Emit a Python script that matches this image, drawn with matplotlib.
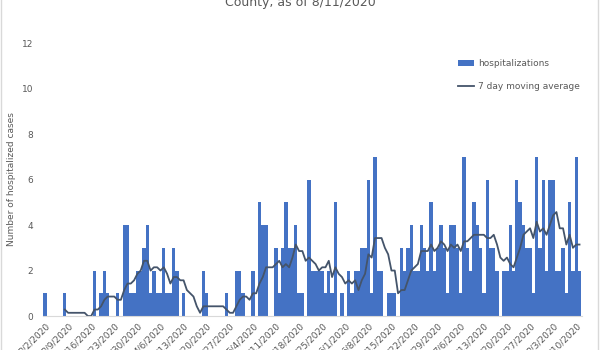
import matplotlib
matplotlib.use("Agg")
import matplotlib.pyplot as plt
import numpy as np
import pandas as pd
from matplotlib.patches import Rectangle

# Daily hospitalizations, 3/2/2020 through 8/10/2020
start_date = "2020-03-02"
hospitalizations = [
    1, 0, 0, 0, 0, 0, 1,          # 3/2
    0, 0, 0, 0, 0, 0, 0,          # 3/9
    0, 2, 0, 1, 2, 1, 0,          # 3/16
    0, 1, 0, 4, 4, 1, 1,          # 3/23
    2, 2, 3, 4, 1, 2, 1,          # 3/30
    1, 3, 1, 1, 3, 2, 0,          # 4/6
    1, 0, 0, 0, 0, 0, 2,          # 4/13
    1, 0, 0, 0, 0, 0, 1,          # 4/20
    0, 0, 2, 2, 1, 0, 0,          # 4/27
    2, 0, 5, 4, 4, 0, 0,          # 5/4
    3, 1, 3, 5, 3, 3, 4,          # 5/11
    1, 1, 0, 6, 2, 2, 2,          # 5/18
    2, 1, 2, 1, 5, 0, 1,          # 5/25
    0, 2, 1, 2, 2, 3, 3,          # 6/1
    6, 1, 7, 2, 2, 0, 1,          # 6/8
    1, 1, 0, 3, 2, 3, 4,          # 6/15
    2, 2, 4, 3, 2, 5, 2,          # 6/22
    3, 4, 3, 1, 4, 4, 3,          # 6/29
    1, 7, 3, 2, 5, 4, 3,          # 7/6
    1, 6, 3, 3, 2, 0, 2,          # 7/13
    2, 4, 2, 6, 5, 4, 3,          # 7/20
    3, 1, 7, 3, 6, 2, 6,          # 7/27
    6, 2, 2, 3, 1, 5, 2,          # 8/3
    7, 2,                         # 8/10
]
window = 7

dates = pd.date_range(start_date, periods=len(hospitalizations), freq="D")
counts = pd.Series(hospitalizations, index=dates)
moving_avg = counts.rolling(window).mean()

x = np.arange(len(counts))
tick_idx = x[::7]
tick_labels = [f"{d.month}/{d.day}/{d.year}" for d in dates[::7]]

BAR = "#4472C4"
LINE = "#44546A"
TEXT = "#595959"

fig = plt.figure(figsize=(6, 3.5), dpi=100)
fig.patches.append(Rectangle((0.001, -0.01), 0.995, 1.02, transform=fig.transFigure,
                             fill=False, edgecolor="#D9D9D9", linewidth=1.0))
ax = fig.add_axes([0.0717, 0.097, 0.8975, 0.78])

bars = ax.bar(x, counts.values, width=1.0, color=BAR, linewidth=0)
line, = ax.plot(x, moving_avg.values, color=LINE, linewidth=1.3)

ax.set_xlim(-0.6, len(counts) - 0.4)
ax.set_ylim(0, 12)
ax.set_yticks(range(0, 13, 2))
ax.set_xticks(tick_idx)
ax.set_xticklabels(tick_labels, rotation=45, ha="right", rotation_mode="anchor")
ax.tick_params(axis="both", length=0, labelsize=6.5, colors=TEXT)
ax.tick_params(axis="x", pad=4)
ax.tick_params(axis="y", pad=7)

for side in ("top", "right", "left"):
    ax.spines[side].set_visible(False)
ax.spines["bottom"].set_color("#D9D9D9")

ax.set_ylabel("Number of hospitalized cases", fontsize=6.5, color=TEXT, labelpad=4)

fig.text(0.5, 0.983, "County, as of 8/11/2020", ha="center", va="baseline",
         fontsize=9, color=TEXT)

leg = ax.legend([bars, line], ["hospitalizations", "7 day moving average"],
                loc="upper left", bbox_to_anchor=(0.755, 0.97), frameon=False,
                fontsize=6.5, handlelength=1.8, labelspacing=1.5, handletextpad=0.5)
for t in leg.get_texts():
    t.set_color(TEXT)

fig.savefig("out.png", dpi=100)
